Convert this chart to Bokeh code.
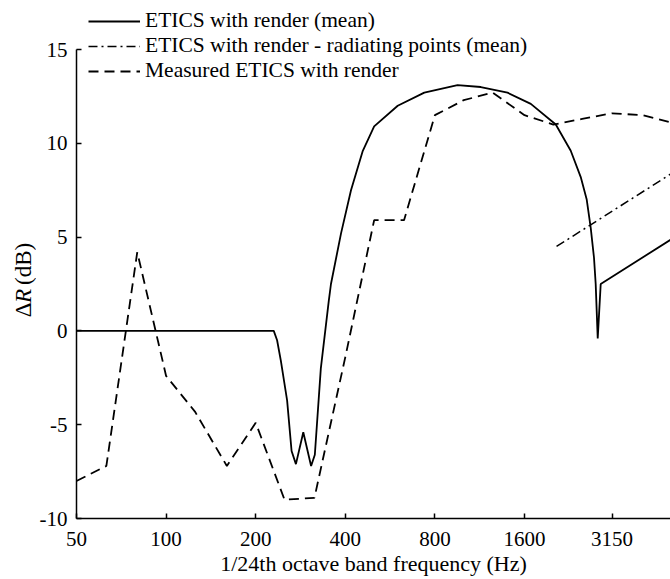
from math import pi
from bokeh.plotting import figure
from bokeh.layouts import row
from bokeh.models import (FixedTicker, Legend, LegendItem, Label, Range1d,
                          NumeralTickFormatter)
from bokeh.embed import file_html
from bokeh.resources import INLINE

FONT = "Liberation Serif"

# ETICS with render (mean)  - 1/24 octave model
model_freq = [50, 230, 236, 243, 255, 264, 273, 289, 307, 316, 331, 352, 358,
              387, 418, 458, 500, 600, 737, 953, 1141, 1403, 1680, 2038, 2288,
              2472, 2589, 2670, 2739, 2775, 2819, 2885, 5000]
model_dr = [0.0, 0.0, -0.5, -1.6, -3.7, -6.4, -7.1, -5.4, -7.2, -6.6, -2.0, 1.6,
            2.5, 5.2, 7.5, 9.6, 10.9, 12.0, 12.7, 13.1, 13.0, 12.7, 12.1, 11.0,
            9.6, 8.2, 7.0, 5.5, 3.9, 2.5, -0.4, 2.5, 4.9]

# ETICS with render - radiating points (mean)
rad_freq = [2050, 5000]
rad_dr = [4.5, 8.4]

# Measured ETICS with render (1/3 octave bands)
meas_freq = [50, 63, 80, 100, 125, 160, 200, 250, 315, 400, 500, 630, 800,
             1000, 1250, 1600, 2000, 2500, 3150, 4000, 5000]
meas_dr = [-8.0, -7.2, 4.2, -2.4, -4.3, -7.2, -4.9, -9.0, -8.9, -1.4, 5.9, 5.9,
           11.5, 12.3, 12.7, 11.5, 11.0, 11.3, 11.6, 11.5, 11.1]

x_ticks = [50, 100, 200, 400, 800, 1600, 3150]
y_ticks = [-10, -5, 0, 5, 10, 15]

labels = ["ETICS with render (mean)",
          "ETICS with render - radiating points (mean)",
          "Measured ETICS with render"]

x_label = "1/24th octave band frequency (Hz)"
y_label_parts = [("\u0394", "normal"), ("R", "italic"), ("(dB)", "normal")]

# ---- main plot -------------------------------------------------------
Y_MIN, Y_MAX = -10, 15
Y_TOP = Y_MAX + 49 / 18.76        # room above the axis for the legend

p = figure(width=634, height=579, x_axis_type="log",
           x_range=Range1d(50, 4950), y_range=Range1d(Y_MIN, Y_TOP),
           output_backend="svg", toolbar_location=None, title=None,
           min_border_left=40, min_border_right=0, min_border_top=0,
           min_border_bottom=61)
p.outline_line_color = None
p.grid.visible = False
p.background_fill_color = "white"
p.border_fill_color = "white"

r1 = p.line(model_freq, model_dr, line_color="black", line_width=1.8)
r2 = p.line(rad_freq, rad_dr, line_color="black", line_width=1.5,
            line_dash="9 4 2 4")
r3 = p.line(meas_freq, meas_dr, line_color="black", line_width=1.8,
            line_dash="10 6")

for ax in (p.xaxis[0], p.yaxis[0]):
    ax.axis_line_color = "black"
    ax.axis_line_width = 1.5
    ax.major_tick_in = 5
    ax.major_tick_out = 0
    ax.major_tick_line_width = 1.5
    ax.major_tick_line_color = "black"
    ax.minor_tick_line_color = None
    ax.major_label_text_font = FONT
    ax.major_label_text_font_size = "21px"
    ax.major_label_text_color = "black"
    ax.axis_label_text_font = FONT
    ax.axis_label_text_font_size = "22px"
    ax.axis_label_text_font_style = "normal"
    ax.axis_label_text_color = "black"

p.xaxis.ticker = FixedTicker(ticks=x_ticks, minor_ticks=[])
p.xaxis.formatter = NumeralTickFormatter(format="0")
p.xaxis.major_label_standoff = 13
p.xaxis.axis_label = x_label
p.xaxis.axis_label_standoff = 2

p.yaxis.ticker = FixedTicker(ticks=y_ticks, minor_ticks=[])
p.yaxis.major_label_overrides = {t: str(t) for t in y_ticks}
p.yaxis.major_label_standoff = 9
p.yaxis.bounds = (Y_MIN, Y_MAX)
p.yaxis.axis_label = None

legend = Legend(items=[LegendItem(label=labels[0], renderers=[r1]),
                       LegendItem(label=labels[1], renderers=[r2]),
                       LegendItem(label=labels[2], renderers=[r3])],
                location=(12, 435), orientation="vertical")
legend.background_fill_alpha = 0
legend.border_line_color = None
legend.padding = 0
legend.margin = 0
legend.spacing = 0
legend.glyph_width = 52
legend.glyph_height = 20
legend.label_height = 24
legend.label_standoff = 5
legend.label_text_font = FONT
legend.label_text_font_size = "21.5px"
legend.label_text_color = "black"
p.add_layout(legend)

# ---- narrow strip holding the rotated y-axis title ---------------------
lab = figure(width=36, height=579, x_range=Range1d(0, 36),
             y_range=Range1d(0, 579), output_backend="svg",
             toolbar_location=None, title=None, min_border=0,
             x_axis_location=None, y_axis_location=None)
lab.outline_line_color = None
lab.grid.visible = False
lab.background_fill_color = "white"
lab.border_fill_color = "white"

starts = [225, 241, 261]
for (txt, style), y0 in zip(y_label_parts, starts):
    lab.add_layout(Label(x=23, y=y0, text=txt, angle=pi / 2,
                         text_font=FONT, text_font_size="23px",
                         text_font_style=style, text_color="black",
                         text_baseline="middle", text_align="left"))

layout = row(lab, p, spacing=0)
open("out.html", "w").write(file_html(layout, INLINE))
